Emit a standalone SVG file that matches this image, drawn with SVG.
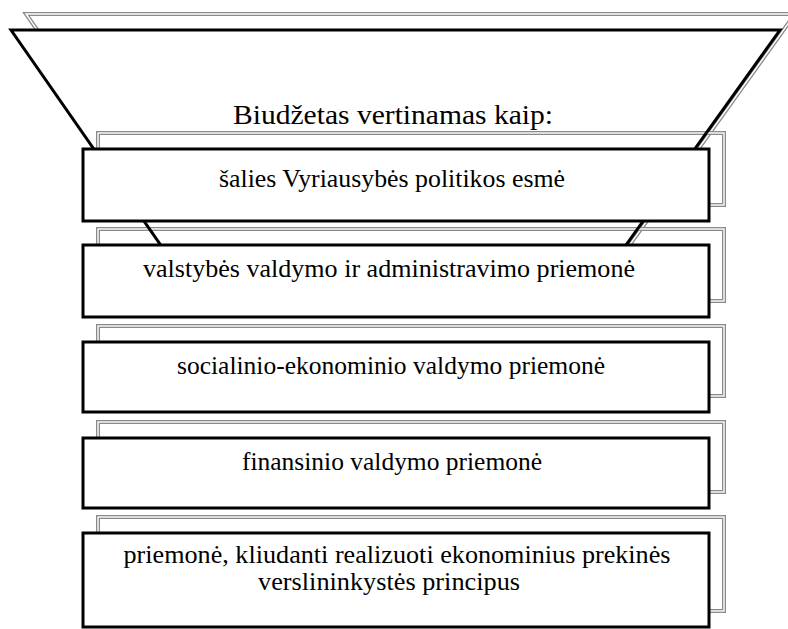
<svg xmlns="http://www.w3.org/2000/svg" width="788" height="629" viewBox="0 0 788 629">
<style>
.sh{fill:none;stroke:#8a8a8a;stroke-width:4}
.shi{fill:none;stroke:#ffffff;stroke-width:1.4}
.box{fill:#ffffff;stroke:#000000;stroke-width:3}
text{fill:#000000;text-anchor:middle;font-family:"Liberation Serif","Times New Roman",serif;font-size:24.5px}
.title{font-size:28px}
</style>
<defs>
<polygon id="trap" points="11,30 780,30 601,280 185,280"/>
<polygon id="trapsh" points="26,14 795,14 616,264 200,264"/>
<rect id="r1" x="83" y="149" width="626" height="72"/>
<rect id="r2" x="83" y="245" width="626" height="72"/>
<rect id="r3" x="83" y="342" width="626" height="70"/>
<rect id="r4" x="83" y="438" width="626" height="70"/>
<rect id="r5" x="83" y="533" width="626" height="94"/>
</defs>
<g id="funnel-shadow">
<use href="#trapsh" class="sh"/>
<use href="#trapsh" class="shi"/>
</g>
<g id="funnel-fill">
<use href="#trap" fill="#ffffff" stroke="none"/>
</g>
<g id="shadows" transform="translate(15,-16)">
<use href="#r1" class="sh"/><use href="#r1" class="shi"/>
<use href="#r2" class="sh"/><use href="#r2" class="shi"/>
<use href="#r3" class="sh"/><use href="#r3" class="shi"/>
<use href="#r4" class="sh"/><use href="#r4" class="shi"/>
<use href="#r5" class="sh"/><use href="#r5" class="shi"/>
</g>
<g id="funnel">
<use href="#trap" fill="none" stroke="#000000" stroke-width="3" stroke-linejoin="miter"/>
<text class="title" x="393" y="124" textLength="320" lengthAdjust="spacingAndGlyphs">Biudžetas vertinamas kaip:</text>
</g>
<g id="node1">
<use href="#r1" class="box"/>
<text x="392" y="187" textLength="346" lengthAdjust="spacingAndGlyphs">šalies Vyriausybės politikos esmė</text>
</g>
<g id="node2">
<use href="#r2" class="box"/>
<text x="389" y="277" textLength="492" lengthAdjust="spacingAndGlyphs">valstybės valdymo ir administravimo priemonė</text>
</g>
<g id="node3">
<use href="#r3" class="box"/>
<text x="391" y="374" textLength="428" lengthAdjust="spacingAndGlyphs">socialinio-ekonominio valdymo priemonė</text>
</g>
<g id="node4">
<use href="#r4" class="box"/>
<text x="392" y="470" textLength="300" lengthAdjust="spacingAndGlyphs">finansinio valdymo priemonė</text>
</g>
<g id="node5">
<use href="#r5" class="box"/>
<text x="397" y="563" textLength="547" lengthAdjust="spacingAndGlyphs">priemonė, kliudanti realizuoti ekonominius prekinės</text>
<text x="389" y="590" textLength="262" lengthAdjust="spacingAndGlyphs">verslininkystės principus</text>
</g>
</svg>
